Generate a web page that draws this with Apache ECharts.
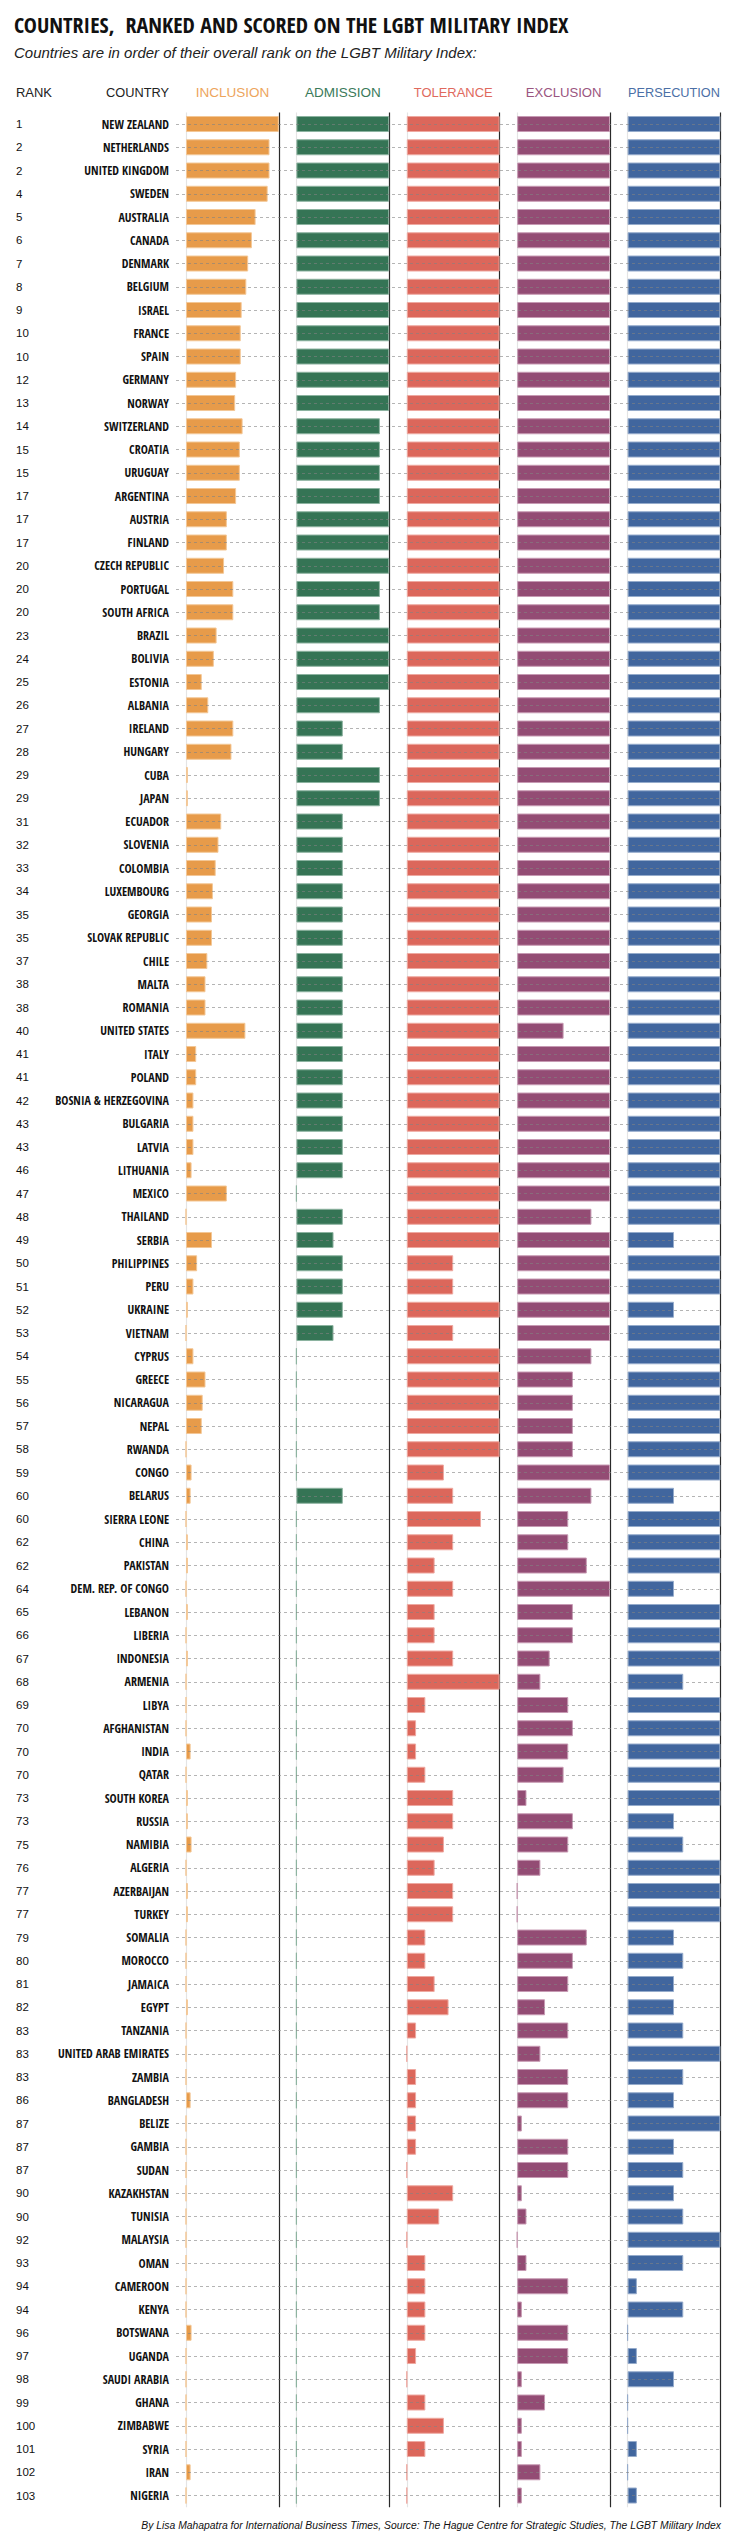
<!DOCTYPE html>
<html>
<head>
<meta charset="utf-8">
<script src="https://cdn.jsdelivr.net/npm/echarts@6/dist/echarts.min.js"></script>
<style>
html,body{margin:0;padding:0;background:#fff;}
#chart{width:736px;height:2536px;}
</style>
</head>
<body>
<div id="chart"></div>
<script>
const countries = ["NEW ZEALAND","NETHERLANDS","UNITED KINGDOM","SWEDEN","AUSTRALIA","CANADA","DENMARK","BELGIUM","ISRAEL","FRANCE",
"SPAIN","GERMANY","NORWAY","SWITZERLAND","CROATIA","URUGUAY","ARGENTINA","AUSTRIA","FINLAND","CZECH REPUBLIC",
"PORTUGAL","SOUTH AFRICA","BRAZIL","BOLIVIA","ESTONIA","ALBANIA","IRELAND","HUNGARY","CUBA","JAPAN",
"ECUADOR","SLOVENIA","COLOMBIA","LUXEMBOURG","GEORGIA","SLOVAK REPUBLIC","CHILE","MALTA","ROMANIA","UNITED STATES",
"ITALY","POLAND","BOSNIA & HERZEGOVINA","BULGARIA","LATVIA","LITHUANIA","MEXICO","THAILAND","SERBIA","PHILIPPINES",
"PERU","UKRAINE","VIETNAM","CYPRUS","GREECE","NICARAGUA","NEPAL","RWANDA","CONGO","BELARUS",
"SIERRA LEONE","CHINA","PAKISTAN","DEM. REP. OF CONGO","LEBANON","LIBERIA","INDONESIA","ARMENIA","LIBYA","AFGHANISTAN",
"INDIA","QATAR","SOUTH KOREA","RUSSIA","NAMIBIA","ALGERIA","AZERBAIJAN","TURKEY","SOMALIA","MOROCCO",
"JAMAICA","EGYPT","TANZANIA","UNITED ARAB EMIRATES","ZAMBIA","BANGLADESH","BELIZE","GAMBIA","SUDAN","KAZAKHSTAN",
"TUNISIA","MALAYSIA","OMAN","CAMEROON","KENYA","BOTSWANA","UGANDA","SAUDI ARABIA","GHANA","ZIMBABWE",
"SYRIA","IRAN","NIGERIA"];

const ranks = [1,2,2,4,5,6,7,8,9,10,10,12,13,14,15,15,17,17,17,20,20,20,23,24,25,26,27,28,29,29,
31,32,33,34,35,35,37,38,38,40,41,41,42,43,43,46,47,48,49,50,51,52,53,54,55,56,57,58,59,60,
60,62,62,64,65,66,67,68,69,70,70,70,73,73,75,76,77,77,79,80,81,82,83,83,83,86,87,87,87,90,
90,92,93,94,94,96,97,98,99,100,101,102,103];

const inclusion = [100,90,90,88,75,71,67,65,60,59,
59,54,53,61,58,58,54,44,44,41,
51,51,33,30,17,24,51,49,2,2,
38,35,32,29,28,28,23,21,21,64,
11,11,8,8,8,6,44,0,28,12,
8,2,0,8,21,18,17,0,6,5,
0,2,2,0,2,0,2,0,0,0,
5,0,2,2,6,0,2,2,0,0,
0,2,0,0,0,5,0,0,0,0,
0,0,0,0,0,6,0,0,0,0,
0,5,0];

const admission = [100,100,100,100,100,100,100,100,100,100,
100,100,100,90,90,90,90,100,100,100,
90,90,100,100,100,90,50,50,90,90,
50,50,50,50,50,50,50,50,50,50,
50,50,50,50,50,50,0,50,40,50,
50,50,40,0,0,0,0,0,0,50,
0,0,0,0,0,0,0,0,0,0,
0,0,0,0,0,0,0,0,0,0,
0,0,0,0,0,0,0,0,0,0,
0,0,0,0,0,0,0,0,0,0,
0,0,0];

const tolerance = [100,100,100,100,100,100,100,100,100,100,
100,100,100,100,100,100,100,100,100,100,
100,100,100,100,100,100,100,100,100,100,
100,100,100,100,100,100,100,100,100,100,
100,100,100,100,100,100,100,100,100,50,
50,100,50,100,100,100,100,100,40,50,
80,50,30,50,30,30,50,100,20,10,
10,20,50,50,40,30,50,50,20,20,
30,45,10,0,10,10,10,10,0,50,
35,0,20,20,20,20,10,0,20,40,
20,0,0];

const exclusion = [100,100,100,100,100,100,100,100,100,100,
100,100,100,100,100,100,100,100,100,100,
100,100,100,100,100,100,100,100,100,100,
100,100,100,100,100,100,100,100,100,50,
100,100,100,100,100,100,100,80,100,100,
100,100,100,80,60,60,60,60,100,80,
55,55,75,100,60,60,35,25,55,60,
55,50,10,60,55,25,0,0,75,60,
55,30,55,25,55,55,5,55,55,5,
10,0,10,55,5,55,55,5,30,5,
5,25,5];

const persecution = [100,100,100,100,100,100,100,100,100,100,
100,100,100,100,100,100,100,100,100,100,
100,100,100,100,100,100,100,100,100,100,
100,100,100,100,100,100,100,100,100,100,
100,100,100,100,100,100,100,100,50,100,
100,50,100,100,100,100,100,100,100,50,
100,100,100,50,100,100,100,60,100,100,
100,100,100,50,60,100,100,100,50,60,
50,50,60,100,60,50,100,50,60,50,
60,100,60,10,60,0,10,50,0,0,
10,0,10];

const columnNames = ["INCLUSION","ADMISSION","TOLERANCE","EXCLUSION","PERSECUTION"];
const seriesValues = [inclusion, admission, tolerance, exclusion, persecution];

const colors = ["#E79B4A","#357455","#DC675B","#934C74","#41669E"];
const borderColors = ["#F3C796","#8DB3A0","#EEA9A1","#C79AB3","#95ABCB"];
const headColors = ["#EDA55C","#3A7A5A","#E0695D","#9A5580","#4B6FA6"];

// pick the narrowest installed sans family for the bold condensed labels
const cv = document.createElement('canvas').getContext('2d');
function w(font, text) { cv.font = font; return cv.measureText(text).width; }
const probe = 'BOSNIA & HERZEGOVINA abcdefghij';
const candidates = ["Liberation Sans Narrow","Roboto Condensed","DejaVu Sans Condensed","Noto Sans Condensed","Open Sans Condensed","Arial Narrow"];
let FAMILY = "'Liberation Sans',sans-serif";
let best = w("bold 20px 'Liberation Sans',sans-serif", probe);
for (const c of candidates) {
  const a = w("bold 20px '" + c + "',monospace", probe), b = w("bold 20px monospace", probe);
  const a2 = w("bold 20px '" + c + "',serif", probe), b2 = w("bold 20px serif", probe);
  if (Math.abs(a - b) > 0.5 && Math.abs(a2 - b2) > 0.5 && a < best) { best = a; FAMILY = "'" + c + "',sans-serif"; }
}
const REG = "'Liberation Sans',sans-serif";
function fit(text, font, target) { return Math.min(1, target / w(font, text)); }

// country label size so the longest label fits ~125px
let countrySize = 12;
const longW = w("bold 12px " + FAMILY, "BOSNIA & HERZEGOVINA");
if (longW > 125) countrySize = Math.max(9, Math.floor(12 * 125 / longW * 2) / 2);

const panelLeft0 = 186, panelPitch = 110.4, panelW = 92.8;
const gridTop = 112.4, rowH = 23.25;
const gridH = rowH * countries.length;

const chart = echarts.init(document.getElementById('chart'), null, {renderer:'svg', width:736, height:2536});

const headTargets = [74, 76, 79, 76, 92];
const hf = "13.5px " + REG;
const grids = [], xAxes = [], yAxes = [], series = [], graphics = [];
for (let i = 0; i < 5; i++) {
  const left = panelLeft0 + i * panelPitch;
  grids.push({left: left, top: gridTop, width: panelW, height: gridH, containLabel: false});
  xAxes.push({
    type: 'value', gridIndex: i, min: 0, max: 100, interval: 100,
    axisLine: {show: false}, axisTick: {show: false}, axisLabel: {show: false},
    splitLine: {show: true, lineStyle: {color: ['#e4e4e4', '#2a2a2a'], width: 1.2}}
  });
  yAxes.push({
    type: 'category', gridIndex: i, inverse: true, data: countries,
    axisLine: {show: false}, axisTick: {show: false},
    splitLine: {show: false},
    axisLabel: i === 0 ? {
      show: true, interval: 0, margin: 17, align: 'right',
      fontFamily: FAMILY, fontWeight: 'bold', fontSize: countrySize, color: '#111'
    } : {show: false}
  });
  series.push({
    type: 'bar', name: columnNames[i], xAxisIndex: i, yAxisIndex: i,
    data: seriesValues[i], barWidth: 16, silent: true,
    itemStyle: {color: colors[i], borderColor: borderColors[i], borderWidth: 1}
  });
  graphics.push({
    type: 'text', x: left + panelW / 2, y: 92, scaleX: fit(columnNames[i], hf, headTargets[i]),
    style: {text: columnNames[i], x: 0, y: 0, textAlign: 'center', textVerticalAlign: 'middle', font: hf, fill: headColors[i]}
  });
}
// rank axis in grid 0
yAxes.push({
  type: 'category', gridIndex: 0, inverse: true, data: countries, position: 'left',
  axisLine: {show: false}, axisTick: {show: false}, splitLine: {show: false},
  axisLabel: {show: true, interval: 0, margin: 170, align: 'left',
    fontFamily: REG, fontSize: 11.5, color: '#111',
    formatter: function (v, idx) { return String(ranks[idx]); }}
});
// dashed row guide overlay grid
grids.push({left: 176, top: 124, width: 545, height: rowH * (countries.length - 1)});
xAxes.push({type: 'value', gridIndex: 5, min: 0, max: 1, show: false});
yAxes.push({
  type: 'category', gridIndex: 5, inverse: true, data: countries, boundaryGap: false, z: 10,
  axisLine: {show: false}, axisTick: {show: false}, axisLabel: {show: false},
  splitLine: {show: true, interval: 0, lineStyle: {color: 'rgba(130,130,130,0.6)', width: 1, type: [3, 3]}}
});

const titleText = 'COUNTRIES,  RANKED AND SCORED ON THE LGBT MILITARY INDEX';
const subText = 'Countries are in order of their overall rank on the LGBT Military Index:';
const footText = 'By Lisa Mahapatra for International Business Times, Source: The Hague Centre for Strategic Studies, The LGBT Military Index';
const tf = "bold 22px " + FAMILY, sf = "italic 15px " + REG, ff = "italic 11.5px " + REG;

graphics.push(
  {type: 'text', x: 14, y: 24, scaleX: fit(titleText, tf, 707),
    style: {text: titleText, x: 0, y: 0, textVerticalAlign: 'middle', font: tf, fill: '#111'}},
  {type: 'text', x: 14, y: 52, scaleX: fit(subText, sf, 486),
    style: {text: subText, x: 0, y: 0, textVerticalAlign: 'middle', font: sf, fill: '#222'}},
  {type: 'text', x: 16, y: 92, scaleX: fit('RANK', hf, 36),
    style: {text: 'RANK', x: 0, y: 0, textVerticalAlign: 'middle', font: hf, fill: '#222'}},
  {type: 'text', x: 169, y: 92, scaleX: fit('COUNTRY', hf, 63),
    style: {text: 'COUNTRY', x: 0, y: 0, textAlign: 'right', textVerticalAlign: 'middle', font: hf, fill: '#222'}},
  {type: 'text', x: 721, y: 2525, scaleX: fit(footText, ff, 580),
    style: {text: footText, x: 0, y: 0, textAlign: 'right', textVerticalAlign: 'middle', font: ff, fill: '#111'}}
);

chart.setOption({
  animation: false,
  backgroundColor: '#ffffff',
  grid: grids,
  xAxis: xAxes,
  yAxis: yAxes,
  series: series,
  graphic: graphics
});
</script>
</body>
</html>
